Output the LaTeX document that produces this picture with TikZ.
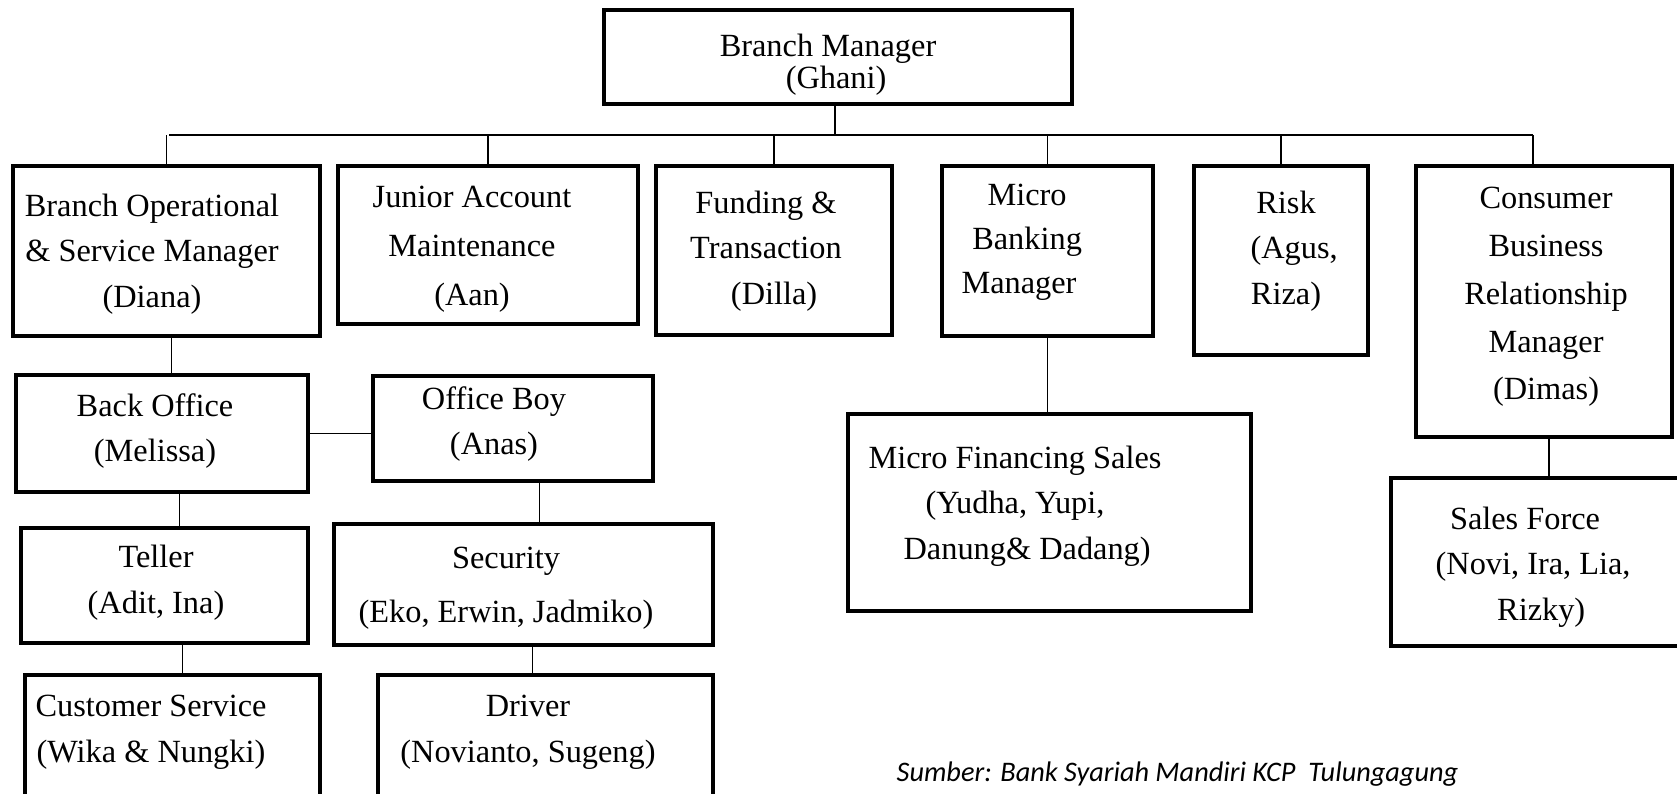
\documentclass[tikz,border=0pt]{standalone}
\usepackage{fontspec}
\setmainfont{Liberation Serif}
\newfontfamily\capfont{Carlito}
\usetikzlibrary{fit}
\tikzstyle{unit} = [rectangle, draw=black, line width=1.3pt, inner sep=0pt]
\tikzstyle{lbl} = [align=center, inner sep=0pt, yshift=-0.03cm, font=\fontsize{9.2}{13}\selectfont]
\tikzstyle{link} = [line width=0.5pt]

\begin{document}
\begin{tikzpicture}[x=0.01cm, y=-0.01cm]
        \clip (0,0) rectangle (1677,793);
        % top level
        \node[unit, fit={(604,10) (1072,104)}] (bm) {};
        \node[lbl, font=\fontsize{9.2}{9}\selectfont] (bmt) at (828,62) {Branch Manager\\ \ \ (Ghani)};
        % second row
        \node[unit, fit={(13,166) (320,336)}] (bo) {};
        \node[unit, fit={(338,166) (638,324)}] (jam) {};
        \node[unit, fit={(656,166) (892,335)}] (fat) {};
        \node[unit, fit={(942,166) (1153,336)}] (mbm) {};
        \node[unit, fit={(1194,166) (1368,355)}] (risk) {};
        \node[unit, fit={(1416,166) (1672,437)}] (cbrm) {};
        \node[lbl] (bot) at (152,251) {Branch Operational\\\& Service Manager\\(Diana)};
        \node[lbl, font=\fontsize{9.2}{14}\selectfont] (jamt) at (472,246) {Junior Account\\Maintenance\\(Aan)};
        \node[lbl] (fatt) at (766,248) {Funding \&\\Transaction\\\ \ (Dilla)};
        \node[lbl, font=\fontsize{9.2}{12.5}\selectfont] (mbmt) at (1019,239) {\ \ Micro\\\ \ Banking\\Manager};
        \node[lbl] (riskt) at (1286,248) {Risk\\\ \ (Agus,\\Riza)};
        \node[lbl, font=\fontsize{9.2}{13.6}\selectfont] (cbrmt) at (1546,294) {Consumer\\Business\\Relationship\\Manager\\(Dimas)};
        % left branch
        \node[unit, fit={(16,375) (308,492)}] (back) {};
        \node[unit, fit={(373,376) (653,481)}] (ob) {};
        \node[unit, fit={(21,528) (308,643)}] (tel) {};
        \node[unit, fit={(334,524) (713,645)}] (sec) {};
        \node[unit, fit={(25,675) (320,820)}] (cs) {};
        \node[unit, fit={(378,675) (713,820)}] (drv) {};
        \node[lbl] (backt) at (155,428) {Back Office\\(Melissa)};
        \node[lbl] (obt) at (494,421) {Office Boy\\(Anas)};
        \node[lbl] (telt) at (156,580) {Teller\\(Adit, Ina)};
        \node[lbl, font=\fontsize{9.2}{15.5}\selectfont] (sect) at (506,585) {Security\\(Eko, Erwin, Jadmiko)};
        \node[lbl] (cst) at (151,729) {Customer Service\\(Wika \& Nungki)};
        \node[lbl] (drvt) at (528,729) {Driver\\(Novianto, Sugeng)};
        % right branches
        \node[unit, fit={(848,414) (1251,611)}] (mfs) {};
        \node[unit, fit={(1391,478) (1700,646)}] (sf) {};
        \node[lbl] (mfst) at (1015,503) {Micro Financing Sales\\(Yudha, Yupi,\\\ \ \ Danung\& Dadang)};
        \node[lbl] (sft) at (1525,564) {Sales Force\\\ \ (Novi, Ira, Lia,\\\ \ \ \ Rizky)};
        \node[anchor=west, inner sep=0pt, font=\capfont\itshape\fontsize{8.05}{10}\selectfont] (src) at (896,774) {Sumber: Bank Syariah Mandiri KCP\ \ Tulungagung};

        % connectors
        \coordinate (busL) at (169,135);
        \coordinate (busR) at (1533,135);
        \draw[link] (busL) -- (busR);
        \draw[link] ([xshift=-0.03cm]bm.south) -- ([xshift=-0.03cm]bm.south |- busL);
        \foreach \n in {bo, jam, fat, mbm, risk}
            \draw[link] (\n.north) -- (\n.north |- busL);
        \draw[link] ([xshift=-0.11cm]cbrm.north) -- ([xshift=-0.11cm]cbrm.north |- busL);
        \draw[link] ([xshift=0.05cm]bo.south) -- ([xshift=0.05cm]bo.south |- back.north);
        \draw[link] (back.east) -- (back.east -| ob.west);
        \draw[link] ([xshift=0.15cm]tel.north) -- ([xshift=0.15cm]tel.north |- back.south);
        \draw[link] ([xshift=0.1cm]cs.north) -- ([xshift=0.1cm]cs.north |- tel.south);
        \draw[link] ([xshift=0.16cm]sec.north) -- ([xshift=0.16cm]sec.north |- ob.south);
        \draw[link] ([xshift=0.09cm]sec.south) -- ([xshift=0.09cm]sec.south |- drv.north);
        \draw[link] (mbm.south) -- (mbm.south |- mfs.north);
        \draw[link] ([xshift=0.05cm]cbrm.south) -- ([xshift=0.05cm]cbrm.south |- sf.north);
\end{tikzpicture}
\end{document}
